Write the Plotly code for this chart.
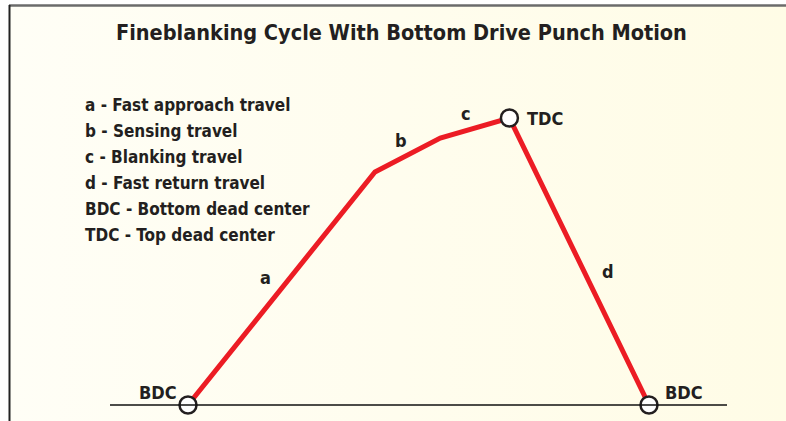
import plotly.graph_objects as go

# ---- data: punch stroke over one cycle ----
crank_deg = [0, 146, 197, 251, 360]          # cycle position
stroke = [0, 81.2, 93.0, 100, 0]             # punch height
point_names = ["BDC", "", "", "TDC", "BDC"]
segment_labels = ["a", "b", "c", "d"]
legend_lines = [
    "a - Fast approach travel",
    "b - Sensing travel",
    "c - Blanking travel",
    "d - Fast return travel",
    "BDC - Bottom dead center",
    "TDC - Top dead center",
]
title_text = "Fineblanking Cycle With Bottom Drive Punch Motion"

FONT = "Liberation Sans Narrow, DejaVu Sans Condensed, Arial Narrow, sans-serif"
RED = "#EC1C24"
INK = "#231F20"

W, H = 786, 421
# axis scaling (pixels per unit)
px_x = 461 / 360
px_y = 287 / 100
x0_px, y0_px = 188, 405
xr = [(0 - x0_px) / px_x, (W - x0_px) / px_x]
yr = [(y0_px - H) / px_y, y0_px / px_y]


def dx_(p):
    return (p - x0_px) / px_x


def dy_(p):
    return (y0_px - p) / px_y


fig = go.Figure()

# background panel with soft gradient
bx = [dx_(9.5), dx_(W), dx_(W), dx_(9.5), dx_(9.5)]
by = [dy_(6), dy_(6), dy_(H), dy_(H), dy_(6)]
fig.add_trace(go.Scatter(x=bx, y=by, mode="lines", fill="toself", line=dict(width=0),
                         fillgradient=dict(type="horizontal",
                                           colorscale=[[0, "#FFFEF6"], [0.5, "#FFFDEE"], [1, "#FFFCE6"]]),
                         hoverinfo="skip"))
fig.add_shape(type="line", xref="paper", yref="paper", x0=9 / W, x1=1, y0=1 - 5.5 / H, y1=1 - 5.5 / H,
              line=dict(color="#6B6B6B", width=2.5))
fig.add_shape(type="line", xref="paper", yref="paper", x0=9.5 / W, x1=9.5 / W, y0=0, y1=1 - 5 / H,
              line=dict(color="#222222", width=2))

# baseline
fig.add_shape(type="line", xref="x", yref="y", x0=dx_(110), x1=dx_(727),
              y0=0, y1=0, line=dict(color="#111111", width=1.5))

# motion line
fig.add_trace(go.Scatter(x=crank_deg, y=stroke, mode="lines",
                         line=dict(color=RED, width=5), hoverinfo="skip"))
# dead-center markers
mk_x = [x for x, n in zip(crank_deg, point_names) if n]
mk_y = [y for y, n in zip(stroke, point_names) if n]
fig.add_trace(go.Scatter(x=mk_x, y=mk_y, mode="markers",
                         marker=dict(size=17, color="white", line=dict(color=INK, width=2.5)),
                         hoverinfo="skip"))

# dead-center labels
shifts = {0: (-9, 13, "right"), 3: (16, 0, "left"), 4: (14, 13, "left")}
for i, n in enumerate(point_names):
    if n:
        ddx, ddy, anc = shifts[i]
        fig.add_annotation(x=crank_deg[i], y=stroke[i], text=f"<b>{n}</b>", showarrow=False,
                           xanchor=anc, yanchor="middle", xshift=ddx, yshift=ddy,
                           font=dict(family=FONT, size=18, color=INK))

# segment labels
seg_shift = [(-16, 11), (-7, 15), (-9, 15), (29, -10)]
for i, lab in enumerate(segment_labels):
    mx = (crank_deg[i] + crank_deg[i + 1]) / 2
    my = (stroke[i] + stroke[i + 1]) / 2
    ddx, ddy = seg_shift[i]
    fig.add_annotation(x=mx, y=my, text=f"<b>{lab}</b>", showarrow=False,
                       xanchor="center", yanchor="middle", xshift=ddx, yshift=ddy,
                       font=dict(family=FONT, size=18, color=INK))

# legend text block
for i, line in enumerate(legend_lines):
    fig.add_annotation(xref="paper", yref="paper", x=83 / W, y=1 - (105 + 26 * i) / H,
                       text=f"<b>{line}</b>", showarrow=False, xanchor="left", yanchor="middle",
                       font=dict(family=FONT, size=17, color=INK))

# title
fig.add_annotation(xref="paper", yref="paper", x=401 / W, y=1 - 32 / H, text=f"<b>{title_text}</b>",
                   showarrow=False, xanchor="center", yanchor="middle",
                   font=dict(family=FONT, size=21.5, color=INK))

fig.update_layout(
    width=W, height=H, margin=dict(l=0, r=0, t=0, b=0),
    paper_bgcolor="white", plot_bgcolor="rgba(0,0,0,0)", showlegend=False,
    xaxis=dict(range=xr, visible=False, fixedrange=True),
    yaxis=dict(range=yr, visible=False, fixedrange=True),
)
fig.write_html("out.html", config={"displayModeBar": False},
               post_script="document.body.style.margin='0';document.body.style.overflow='hidden';")
